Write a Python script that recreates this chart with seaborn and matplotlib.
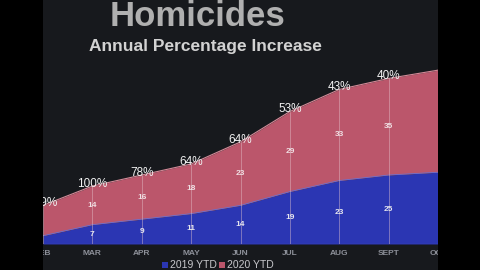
import matplotlib
matplotlib.use("Agg")
import matplotlib.pyplot as plt
import seaborn as sns
import numpy as np
import pandas as pd
from matplotlib.patches import Rectangle

months = ["FEB", "MAR", "APR", "MAY", "JUN", "JUL", "AUG", "SEPT", "OCT"]
ytd_2019 = [3, 7, 9, 11, 14, 19, 23, 25, 26]
ytd_2020 = [11, 14, 16, 18, 23, 29, 33, 35, 37]
pct_labels = ["119%", "100%", "78%", "64%", "64%", "53%", "43%", "40%", ""]

title = "Homicides"
subtitle = "Annual Percentage Increase"
series_names = ["2019 YTD", "2020 YTD"]

BLUE = "#2b36b3"
PINK = "#bb566b"
PANEL = "#17191d"

sns.set_theme(style="dark")
plt.rcParams["font.family"] = ["Liberation Sans", "DejaVu Sans"]

W, H = 480, 270
fig = plt.figure(figsize=(4.8, 2.7), dpi=100, facecolor="black")

fig.patches.append(Rectangle((0, 0), 1, 1, transform=fig.transFigure,
                             facecolor=PANEL, edgecolor="none", zorder=-10))

ax = fig.add_axes([43 / W, 26 / H, (438 - 43) / W, (244 - 26) / H])
ax.set_facecolor(PANEL)
ax.set_zorder(1)

df = pd.DataFrame({"month": months, "y2019": ytd_2019, "y2020": ytd_2020})
x = np.arange(len(months))
total = df["y2019"] + df["y2020"]

ax.fill_between(x, 0, df["y2019"], color=BLUE, linewidth=0, zorder=2)
ax.fill_between(x, df["y2019"], total, color=PINK, linewidth=0, zorder=2)
sns.lineplot(x=x, y=total, ax=ax, color="#d48a98", linewidth=0.8, zorder=3)
sns.lineplot(x=x, y=df["y2019"], ax=ax, color="#6a6fd0", linewidth=0.6, zorder=3)

for xi, t in zip(x, total):
    ax.plot([xi, xi], [0, t], color="#e8c8d0", linewidth=0.5, alpha=0.6, zorder=4)

last = len(months) - 1
for xi, a, b, p in zip(x, ytd_2019, ytd_2020, pct_labels):
    if 0 < xi < last:
        ax.text(xi, a / 2, str(a), color="#e6e6ee", fontsize=6, fontweight="bold",
                ha="center", va="center", zorder=5, clip_on=True)
        ax.text(xi, a + b / 2, str(b), color="#f0e0e4", fontsize=6, fontweight="bold",
                ha="center", va="center", zorder=5, clip_on=True)
    if p:
        ax.text(xi, a + b + 0.8, p, color="#f2f2f2", fontsize=8.5,
                ha="center", va="center", zorder=5, clip_on=True)

ax.set_xlim((43 - 37) / 50.7, (438 - 37) / 50.7)
ax.set_ylim(0, 79)

ax.set_xticks(x)
ax.set_xticklabels(months, fontsize=6, fontweight="bold", color="#8d9099")
ax.tick_params(axis="x", length=2, pad=2, colors="#8d9099")
ax.set_yticks([])
ax.set_xlabel("")
ax.set_ylabel("")
ax.grid(False)
for s in ax.spines.values():
    s.set_visible(False)
ax.axhline(0, color="#6a70c8", linewidth=0.8, zorder=3)

fig.patches.append(Rectangle((0, 0), 43 / W, 1, transform=fig.transFigure,
                             facecolor="black", edgecolor="none", zorder=20))
fig.patches.append(Rectangle((438 / W, 0), 1 - 438 / W, 1, transform=fig.transFigure,
                             facecolor="black", edgecolor="none", zorder=20))

fig.text(198 / W, 1 - 17 / H, title, color="#b0b0b0", fontsize=25, fontweight="bold",
         ha="center", va="center")
fig.text(205 / W, 1 - 46 / H, subtitle, color="#d2d2d2", fontsize=12.5, fontweight="bold",
         ha="center", va="center")

ly = 1 - 265 / H
fig.patches.append(Rectangle((162 / W, ly - 3 / H), 6 / W, 6 / H, transform=fig.transFigure,
                             facecolor=BLUE, edgecolor="none", zorder=5))
fig.text(170 / W, ly, series_names[0], color="#c8c8cc", fontsize=7.5, ha="left", va="center")
fig.patches.append(Rectangle((219 / W, ly - 3 / H), 6 / W, 6 / H, transform=fig.transFigure,
                             facecolor=PINK, edgecolor="none", zorder=5))
fig.text(227 / W, ly, series_names[1], color="#c8c8cc", fontsize=7.5, ha="left", va="center")

fig.savefig("out.png", dpi=100, facecolor="black")
